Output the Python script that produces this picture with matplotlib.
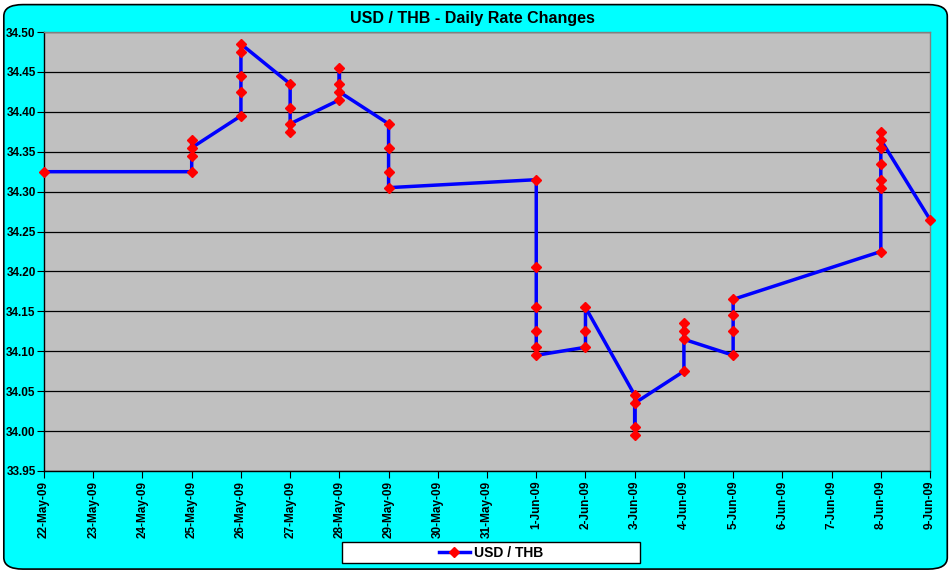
import matplotlib
matplotlib.use("Agg")
import matplotlib.pyplot as plt
import matplotlib.dates as mdates
from matplotlib.patches import FancyBboxPatch, Rectangle
from matplotlib.ticker import MultipleLocator, FuncFormatter
from datetime import datetime

# one entry per trading day, several quotes per day (in order)
days = ["2009-05-22", "2009-05-25", "2009-05-26", "2009-05-27", "2009-05-28",
        "2009-05-29", "2009-06-01", "2009-06-02", "2009-06-03", "2009-06-04",
        "2009-06-05", "2009-06-08", "2009-06-09"]
rates = [
    [34.325],
    [34.325, 34.365, 34.345, 34.355],
    [34.395, 34.425, 34.445, 34.475, 34.485],
    [34.435, 34.405, 34.375, 34.385],
    [34.415, 34.455, 34.435, 34.425],
    [34.385, 34.355, 34.325, 34.305],
    [34.315, 34.205, 34.155, 34.125, 34.105, 34.095],
    [34.105, 34.125, 34.155],
    [34.045, 34.005, 33.995, 34.035],
    [34.075, 34.135, 34.125, 34.115],
    [34.095, 34.125, 34.145, 34.165],
    [34.225, 34.305, 34.315, 34.335, 34.355, 34.375, 34.365],
    [34.265],
]
series_name = "USD / THB"
title = "USD / THB - Daily Rate Changes"

xs, ys = [], []
for d, vals in zip(days, rates):
    dt = datetime.strptime(d, "%Y-%m-%d")
    for v in vals:
        xs.append(dt)
        ys.append(v)

plt.rcParams['font.family'] = ['Liberation Sans', 'DejaVu Sans']

fig = plt.figure(figsize=(9.53, 5.76), dpi=100, facecolor="white")
border = FancyBboxPatch((0.004, 0.012), 0.99, 0.98, boxstyle="round,pad=0,rounding_size=0.02",
                        transform=fig.transFigure, facecolor="#00FFFF", edgecolor="black",
                        linewidth=1.2, zorder=-10)
fig.patches.append(border)

ax = fig.add_axes([0.0462, 0.1823, 0.9297, 0.7621])
ax.set_facecolor("#C0C0C0")

ax.plot(xs, ys, color="#0000FF", linewidth=2.5, marker="D", markersize=5,
        markerfacecolor="#FF0000", markeredgecolor="#FF0000", label=series_name,
        clip_on=False, zorder=3)

ax.set_ylim(33.95, 34.50)
ax.yaxis.set_major_locator(MultipleLocator(0.05))
ax.yaxis.set_major_formatter(FuncFormatter(lambda v, p: "%.2f" % v))
ax.grid(axis="y", color="black", linewidth=0.9)
ax.set_axisbelow(True)

start = datetime(2009, 5, 22)
end = datetime(2009, 6, 9)
ax.set_xlim(start, end)
ax.xaxis.set_major_locator(mdates.DayLocator())
ax.xaxis.set_major_formatter(FuncFormatter(
    lambda v, p: "%d-%s" % (mdates.num2date(v).day, mdates.num2date(v).strftime("%b-%y"))))

for lbl in ax.get_xticklabels():
    lbl.set_rotation(90)
ax.tick_params(axis="x", labelsize=8.5, length=5, direction="out", pad=2)
ax.tick_params(axis="y", labelsize=8.5, length=5, direction="out", pad=1)
for lbl in ax.get_xticklabels() + ax.get_yticklabels():
    lbl.set_fontweight("bold")

for s in ["left", "bottom"]:
    ax.spines[s].set_color("black")
    ax.spines[s].set_linewidth(1.0)
for s in ["top", "right"]:
    ax.spines[s].set_color("#808080")
    ax.spines[s].set_linewidth(1.0)

fig.text(0.496, 0.968, title, ha="center", va="center", fontsize=11.5, fontweight="bold")

# legend box
box = Rectangle((342 / 953, 1 - 563 / 576), (640 - 342) / 953, 21 / 576,
                transform=fig.transFigure, facecolor="white", edgecolor="black", linewidth=1.0)
fig.patches.append(box)
leg = fig.legend(loc="center", bbox_to_anchor=(491 / 953, 1 - 553 / 576), frameon=False,
                 prop={"weight": "bold", "size": 10}, handlelength=2.2, handletextpad=0.3,
                 borderpad=0)

fig.savefig("out.png", dpi=100, facecolor=fig.get_facecolor())
